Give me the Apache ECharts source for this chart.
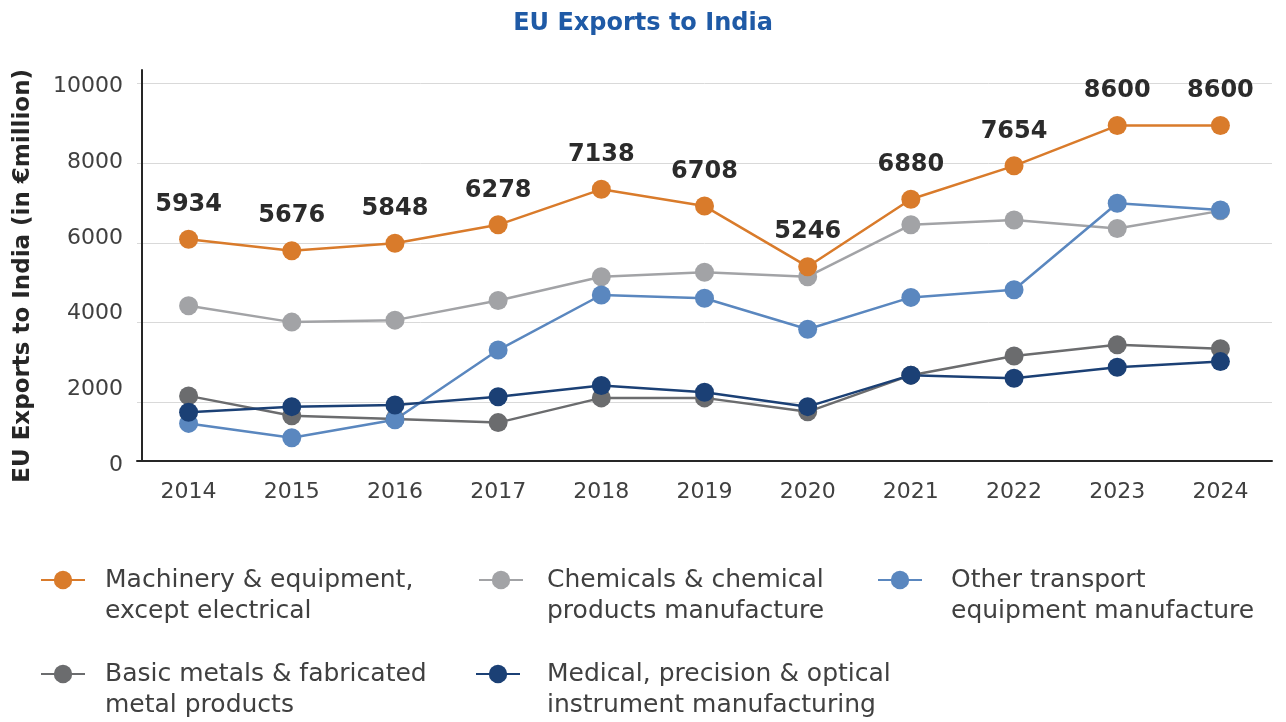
<!DOCTYPE html>
<html>
<head>
<meta charset="utf-8">
<title>EU Exports to India</title>
<script src="https://cdn.jsdelivr.net/npm/echarts@6/dist/echarts.min.js"></script>
<style>
  html, body { margin: 0; padding: 0; background: #fff; }
  #echart { width: 1286px; height: 722px; }
</style>
</head>
<body>
<div id="echart"></div>
<script>
  // categories
  var years = ['2014', '2015', '2016', '2017', '2018', '2019', '2020', '2021', '2022', '2023', '2024']

  // series values (EUR million)
  var machinery = [6090, 5800, 5990, 6450, 7340, 6920, 5400, 7090, 7930, 8940, 8940]
  var chemicals = [4420, 4010, 4060, 4550, 5150, 5260, 5150, 6450, 6570, 6360, 6800]
  var transport = [1470, 1110, 1560, 3310, 4690, 4610, 3830, 4630, 4820, 6990, 6820]
  var metals = [2160, 1660, 1580, 1490, 2110, 2110, 1760, 2680, 3160, 3440, 3340]
  var medical = [1750, 1890, 1930, 2140, 2420, 2250, 1890, 2680, 2600, 2880, 3020]

  // numbers printed above the machinery line
  var machineryLabels = ['5934', '5676', '5848', '6278', '7138', '6708', '5246', '6880', '7654', '8600', '8600']

  var names = [
    'Machinery & equipment, except electrical',
    'Chemicals & chemical products manufacture',
    'Other transport equipment manufacture',
    'Basic metals & fabricated metal products',
    'Medical, precision & optical instrument manufacturing'
  ]
  var legendText = {}
  legendText[names[0]] = 'Machinery & equipment,\nexcept electrical'
  legendText[names[1]] = 'Chemicals & chemical\nproducts manufacture'
  legendText[names[2]] = 'Other transport\nequipment manufacture'
  legendText[names[3]] = 'Basic metals & fabricated\nmetal products'
  legendText[names[4]] = 'Medical, precision & optical\ninstrument manufacturing'

  var colors = {
    machinery: '#d97b2b',
    chemicals: '#a2a3a6',
    transport: '#5a87bf',
    metals: '#6b6c6e',
    medical: '#1b4075'
  }

  // one legend per item so the columns line up
  function makeLegend (name, cx, textLeft, cy) {
    return {
      data: [name],
      left: cx - 22,
      top: cy - 46.5,
      padding: 0,
      itemWidth: 44,
      itemHeight: 23,
      selectedMode: false,
      formatter: function (n) { return '\n' + legendText[n] },
      textStyle: {
        fontSize: 25,
        lineHeight: 31,
        color: '#404040',
        padding: [0, 0, 0, textLeft - cx - 27]
      }
    }
  }

  function lineSeries (name, data, color, extra) {
    var s = {
      name: name,
      type: 'line',
      data: data,
      symbol: 'circle',
      symbolSize: 19,
      showAllSymbol: true,
      lineStyle: { color: color, width: 2.5 },
      itemStyle: { color: color },
      emphasis: { disabled: true }
    }
    for (var k in extra) s[k] = extra[k]
    return s
  }

  var option = {
    animation: false,
    textStyle: { fontFamily: 'DejaVu Sans' },
    title: {
      text: 'EU Exports to India',
      left: 'center',
      top: 7,
      textStyle: { fontSize: 24, fontWeight: 'bold', color: '#1f5aa6' }
    },
    legend: [
      makeLegend(names[0], 62, 104, 580),
      makeLegend(names[1], 500, 546, 580),
      makeLegend(names[2], 899, 950, 580),
      makeLegend(names[3], 62, 104, 674),
      makeLegend(names[4], 497, 546, 674)
    ],
    grid: [
      { left: 137, right: 14, top: 70, bottom: 261 }, // plot area
      { left: 137, right: 14, top: 86.7, bottom: 257 } // tick label axis
    ],
    xAxis: [
      {
        type: 'category',
        data: years,
        boundaryGap: true,
        axisLine: { lineStyle: { color: '#262626', width: 2 } },
        axisTick: { show: false },
        axisLabel: { fontSize: 22, color: '#404040', margin: 20 }
      },
      { type: 'category', gridIndex: 1, data: years, show: false }
    ],
    yAxis: [
      {
        type: 'value',
        min: 527,
        max: 10333,
        splitNumber: 5,
        minInterval: 2000,
        maxInterval: 2000,
        offset: -5,
        axisLine: { show: true, lineStyle: { color: '#262626', width: 2 } },
        axisTick: { show: false },
        axisLabel: { show: false },
        splitLine: {
          showMinLine: false,
          showMaxLine: false,
          lineStyle: { color: '#d9d9d9', width: 1 }
        }
      },
      {
        type: 'value',
        gridIndex: 1,
        min: 0,
        max: 10000,
        interval: 2000,
        axisLine: { show: false },
        axisTick: { show: false },
        splitLine: { show: false },
        axisLabel: {
          fontSize: 22,
          color: '#404040',
          margin: 14,
          formatter: function (v) { return String(v) }
        },
        name: 'EU Exports to India (in €million)',
        nameLocation: 'middle',
        nameRotate: 90,
        nameGap: 102,
        nameTextStyle: { fontSize: 23, fontWeight: 'bold', color: '#262626' }
      }
    ],
    series: [ // drawing order: later ones sit on top
      lineSeries(names[3], metals, colors.metals),
      lineSeries(names[1], chemicals, colors.chemicals),
      lineSeries(names[2], transport, colors.transport),
      lineSeries(names[4], medical, colors.medical),
      lineSeries(names[0], machinery, colors.machinery, {
        label: {
          show: true,
          position: 'top',
          distance: 13,
          fontSize: 24,
          fontWeight: 'bold',
          color: '#2b2b2b',
          formatter: function (p) { return machineryLabels[p.dataIndex] }
        }
      })
    ]
  }

  var chart = echarts.init(document.getElementById('echart'))
  chart.setOption(option)
</script>
</body>
</html>
